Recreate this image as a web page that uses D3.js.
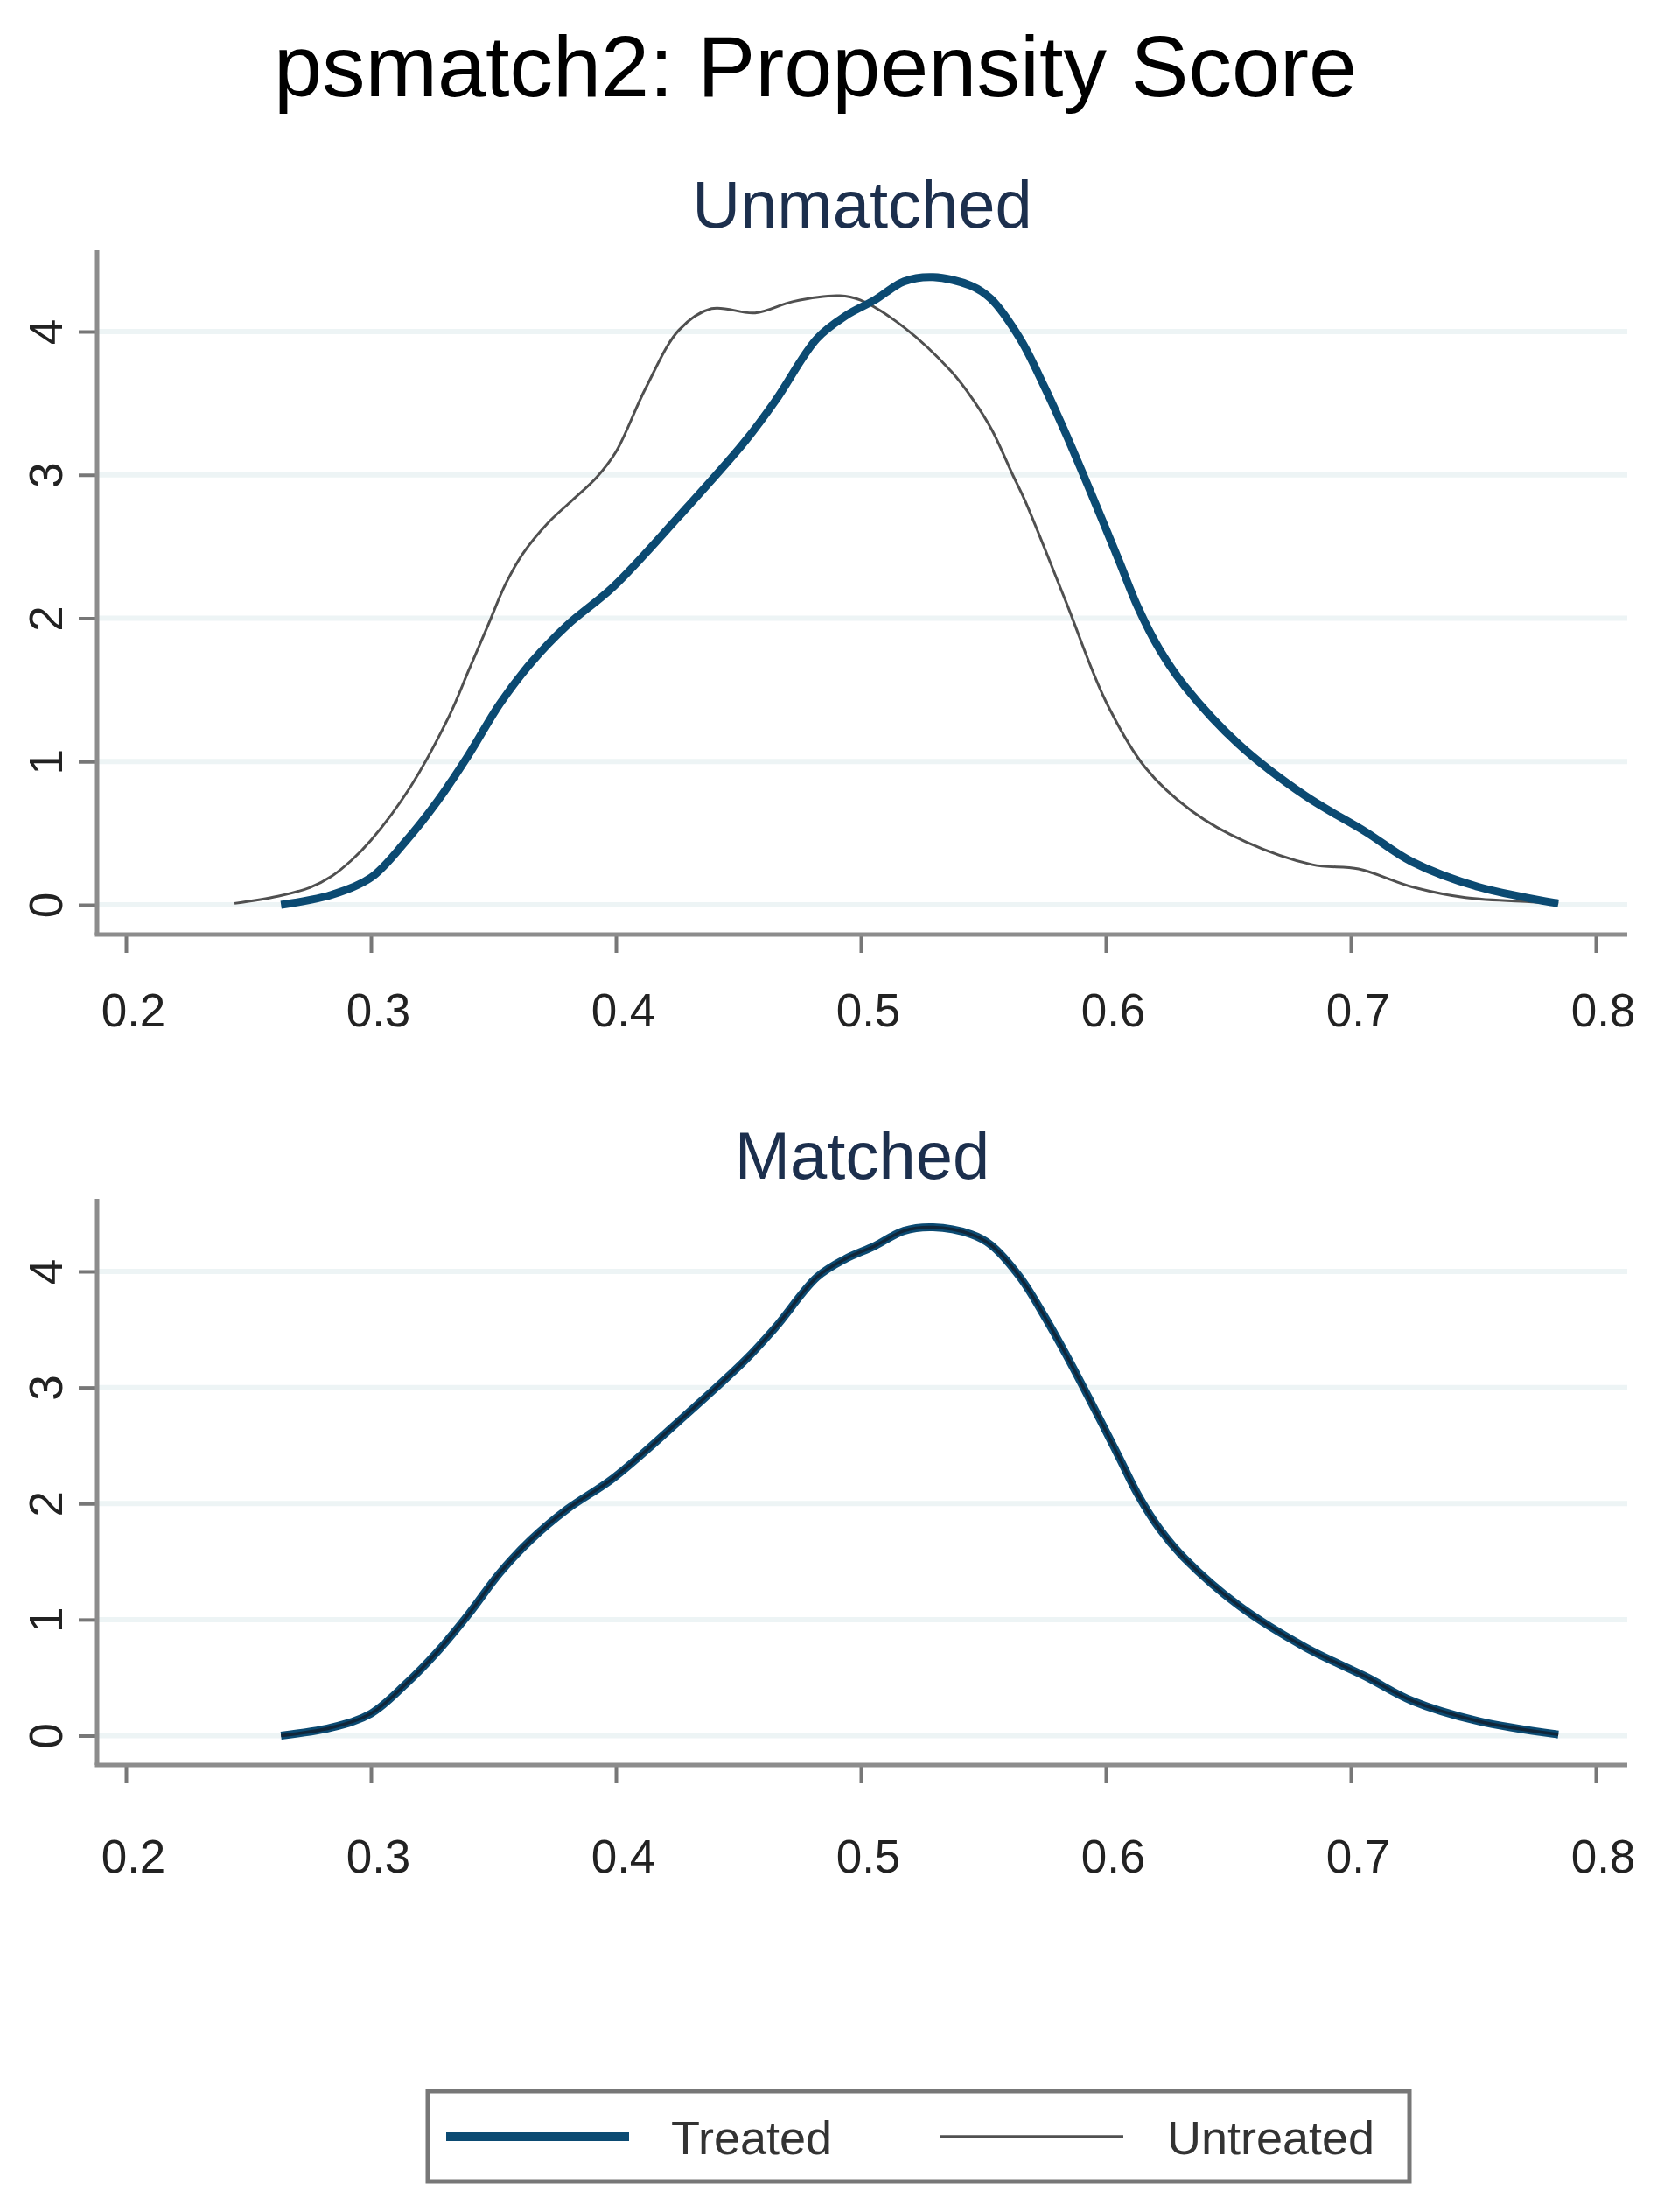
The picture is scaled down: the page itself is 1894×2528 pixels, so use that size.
<!DOCTYPE html>
<html>
<head>
<meta charset="utf-8">
<script src="https://cdn.jsdelivr.net/npm/d3@7"></script>
<style>
  body { margin: 0; background: #fff; }
  svg { display: block; font-family: 'Liberation Sans', Arial, sans-serif; }
</style>
</head>
<body>
<div id="chart"></div>
<script>
// kernel density of the propensity score
const treatedX = [0.2633, 0.284, 0.300, 0.314, 0.327, 0.340, 0.3525, 0.3654, 0.380, 0.399,
  0.4257, 0.453, 0.4652, 0.482, 0.4938, 0.5057, 0.5176, 0.5295, 0.545, 0.553, 0.565,
  0.5748, 0.5836, 0.5943, 0.6054, 0.613, 0.622, 0.6325, 0.6543, 0.6815, 0.706, 0.725,
  0.752, 0.7847];
const treatedY = [0.00, 0.07, 0.19, 0.44, 0.72, 1.05, 1.40, 1.69, 1.95, 2.22,
  2.71, 3.24, 3.52, 3.95, 4.11, 4.22, 4.35, 4.38, 4.32, 4.23, 3.95,
  3.62, 3.29, 2.86, 2.40, 2.08, 1.78, 1.52, 1.12, 0.76, 0.51, 0.30,
  0.125, 0.01];

const untreatedX = [0.2443, 0.262, 0.275, 0.284, 0.292, 0.300, 0.316, 0.332, 0.340, 0.348,
  0.355, 0.362, 0.372, 0.382, 0.392, 0.400, 0.412, 0.4257, 0.439, 0.4568, 0.4724,
  0.4914, 0.4997, 0.5176, 0.537, 0.546, 0.5536, 0.562, 0.567, 0.5836, 0.600, 0.616,
  0.6354, 0.657, 0.6843, 0.7032, 0.725, 0.7468, 0.774, 0.7847];
const untreatedY = [0.01, 0.06, 0.12, 0.20, 0.31, 0.45, 0.82, 1.32, 1.64, 1.96,
  2.24, 2.45, 2.66, 2.82, 2.98, 3.16, 3.60, 4.01, 4.16, 4.13, 4.21,
  4.25, 4.22, 4.03, 3.72, 3.52, 3.31, 3.00, 2.82, 2.12, 1.42, 0.96,
  0.65, 0.44, 0.28, 0.25, 0.125, 0.05, 0.02, 0.01];

// after matching the untreated density lies on top of the treated one
const matchedX = treatedX;
const matchedTreatedY = treatedY;
const matchedUntreatedY = treatedY;

const xTicks = [0.2, 0.3, 0.4, 0.5, 0.6, 0.7, 0.8];
const yTicks = [0, 1, 2, 3, 4];
const seriesNames = ['Treated', 'Untreated'];
const panelTitles = ['Unmatched', 'Matched'];

const width = 1894, height = 2528;
const navy = '#0b4a72';
const grey = '#505050';

const svg = d3.select('#chart').append('svg')
  .attr('width', width)
  .attr('height', height);

svg.append('rect').attr('width', width).attr('height', height).attr('fill', '#fff');

svg.append('text')
  .attr('x', 932).attr('y', 110)
  .attr('text-anchor', 'middle')
  .attr('font-size', 99)
  .attr('fill', '#000')
  .text('psmatch2: Propensity Score');

const panels = [
  { title: panelTitles[0], titleY: 260, top: 286, bottom: 1068, y0: 1034, y4: 379, labelPad: 46,
    lines: [
      { xs: untreatedX, ys: untreatedY, color: grey, w: 3 },
      { xs: treatedX, ys: treatedY, color: navy, w: 9 }
    ] },
  { title: panelTitles[1], titleY: 1347, top: 1370, bottom: 2017, y0: 1983.5, y4: 1453, labelPad: 64,
    lines: [
      { xs: matchedX, ys: matchedTreatedY, color: navy, w: 9 },
      { xs: matchedX, ys: matchedUntreatedY, color: '#10263a', w: 3.5 }
    ] }
];

const left = 111, right = 1860;
const x = d3.scaleLinear().domain([0.2, 0.8]).range([144, 1824]);

panels.forEach(p => {
  const y = d3.scaleLinear().domain([0, 4]).range([p.y0, p.y4]);
  const g = svg.append('g');

  g.append('text')
    .attr('x', (left + right) / 2).attr('y', p.titleY)
    .attr('text-anchor', 'middle')
    .attr('font-size', 76)
    .attr('fill', '#1c2f4d')
    .text(p.title);

  // grid lines
  g.selectAll('line.grid').data(yTicks).enter().append('line')
    .attr('class', 'grid')
    .attr('x1', left).attr('x2', right)
    .attr('y1', d => y(d)).attr('y2', d => y(d))
    .attr('stroke', '#edf4f5').attr('stroke-width', 6);

  // y axis
  const yAxis = g.append('g')
    .attr('transform', `translate(${left},0)`)
    .call(d3.axisLeft(y).tickValues(yTicks).tickFormat(d3.format('d')).tickSize(21));
  yAxis.select('.domain').remove();
  yAxis.selectAll('.tick line').attr('stroke', '#777').attr('stroke-width', 4);
  yAxis.selectAll('.tick text')
    .attr('transform', 'rotate(-90)')
    .attr('x', 0).attr('y', -40).attr('dy', 0)
    .attr('text-anchor', 'middle')
    .attr('font-size', 53)
    .attr('font-family', "'Liberation Sans', Arial, sans-serif")
    .attr('fill', '#222');

  // x axis
  const xAxis = g.append('g')
    .attr('transform', `translate(0,${p.bottom})`)
    .call(d3.axisBottom(x).tickValues(xTicks).tickFormat(d3.format('.1f')).tickSize(21).tickPadding(p.labelPad));
  xAxis.select('.domain').remove();
  xAxis.selectAll('.tick line').attr('stroke', '#777').attr('stroke-width', 4);
  xAxis.selectAll('.tick text')
    .attr('dx', 8)
    .attr('font-size', 53)
    .attr('font-family', "'Liberation Sans', Arial, sans-serif")
    .attr('fill', '#222');

  // axis lines
  g.append('line')
    .attr('x1', left).attr('x2', left).attr('y1', p.top).attr('y2', p.bottom)
    .attr('stroke', '#8c8c8c').attr('stroke-width', 5);
  g.append('line')
    .attr('x1', left - 2.5).attr('x2', right).attr('y1', p.bottom).attr('y2', p.bottom)
    .attr('stroke', '#8c8c8c').attr('stroke-width', 5);

  const line = d3.line()
    .x(d => x(d[0]))
    .y(d => y(d[1]))
    .curve(d3.curveCatmullRom.alpha(0.5));

  p.lines.forEach(s => {
    g.append('path')
      .datum(s.xs.map((v, i) => [v, s.ys[i]]))
      .attr('d', line)
      .attr('fill', 'none')
      .attr('stroke', s.color)
      .attr('stroke-width', s.w)
      .attr('stroke-linejoin', 'round')
      .attr('stroke-linecap', 'butt');
  });
});

// legend
const legend = svg.append('g');
legend.append('rect')
  .attr('x', 489).attr('y', 2390)
  .attr('width', 1122).attr('height', 103)
  .attr('fill', '#fff')
  .attr('stroke', '#777').attr('stroke-width', 5);

const legendItems = [
  { name: seriesNames[0], x1: 510, x2: 719, tx: 767, color: navy, w: 10 },
  { name: seriesNames[1], x1: 1074, x2: 1284, tx: 1334, color: grey, w: 3.5 }
];
legendItems.forEach(d => {
  legend.append('line')
    .attr('x1', d.x1).attr('x2', d.x2).attr('y1', 2442).attr('y2', 2442)
    .attr('stroke', d.color).attr('stroke-width', d.w);
  legend.append('text')
    .attr('x', d.tx).attr('y', 2462)
    .attr('font-size', 54)
    .attr('fill', '#333')
    .text(d.name);
});
</script>
</body>
</html>
